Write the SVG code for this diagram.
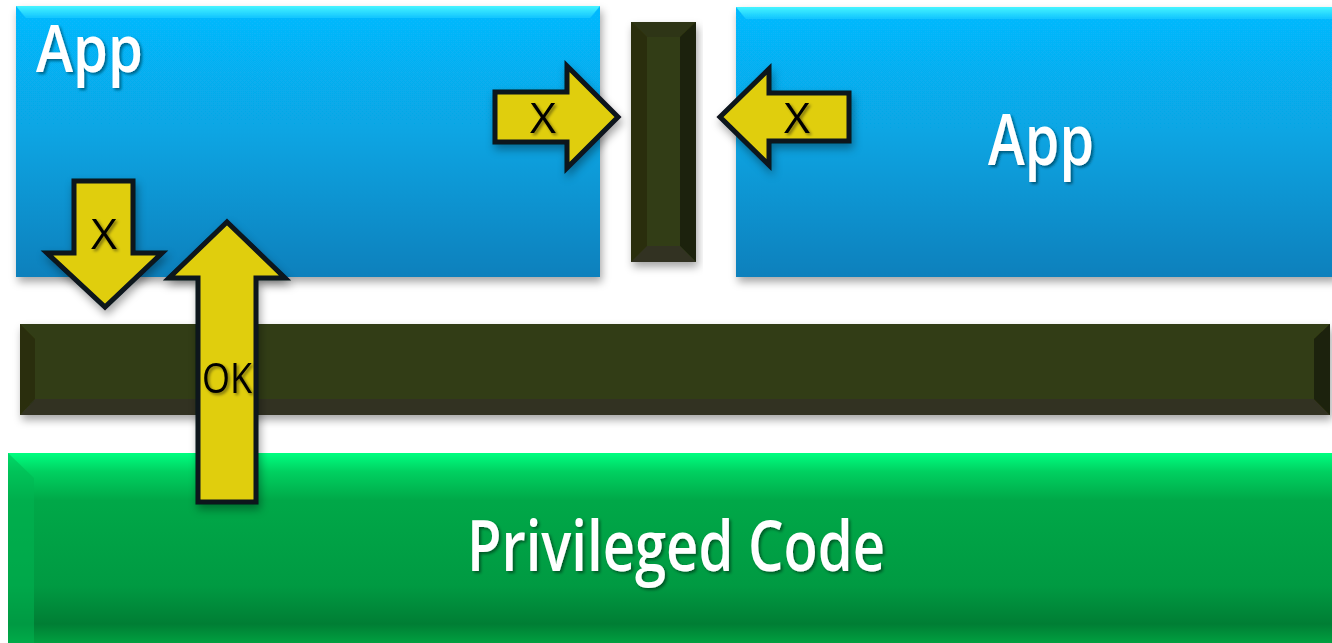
<svg xmlns="http://www.w3.org/2000/svg" width="1332" height="643" viewBox="0 0 1332 643">
<defs>
<linearGradient id="blue" x1="0" y1="0" x2="0" y2="1">
<stop offset="0" stop-color="#06baff"/>
<stop offset="0.45" stop-color="#07a6e4"/>
<stop offset="1" stop-color="#0a80bc"/>
</linearGradient>
<linearGradient id="blueTop" x1="0" y1="0" x2="0" y2="1">
<stop offset="0" stop-color="#46f4ff"/>
<stop offset="1" stop-color="#10c4ff"/>
</linearGradient>
<linearGradient id="green" x1="0" y1="0" x2="0" y2="1">
<stop offset="0" stop-color="#00ff80"/>
<stop offset="0.1" stop-color="#00d060"/>
<stop offset="0.25" stop-color="#00a848"/>
<stop offset="0.7" stop-color="#009a42"/>
<stop offset="0.9" stop-color="#007e34"/>
<stop offset="1" stop-color="#00a040"/>
</linearGradient>
<filter id="sh" x="-10%" y="-10%" width="120%" height="130%">
<feDropShadow dx="2" dy="5" stdDeviation="4" flood-color="#000" flood-opacity="0.35"/>
</filter>
<filter id="tsh" x="-10%" y="-10%" width="130%" height="130%">
<feDropShadow dx="2" dy="2" stdDeviation="1.5" flood-color="#000" flood-opacity="0.45"/>
</filter>
<style>
.big{font-family:"Open Sans","DejaVu Sans",sans-serif;font-size:70px;font-weight:600;fill:#fff;}
.lbl{font-family:"Open Sans","DejaVu Sans",sans-serif;font-size:42px;fill:#000;}
.arrow{fill:#e0ce0e;stroke:#08131c;stroke-width:5;stroke-linejoin:miter;}
.dark{fill:#333d14;}
.bevL{fill:#2a2e0e;}
.bevR{fill:#1d2108;}
.bevB{fill:#303320;}
.bevT{fill:#2e3412;}
</style>
</defs>

<g id="app-left" filter="url(#sh)">
<rect x="16" y="6" width="584" height="271" fill="url(#blue)"/>
<polygon points="16,6 600,6 590,18 26,18" fill="url(#blueTop)"/>
<text class="big" x="36" y="72" font-size="65" textLength="107" lengthAdjust="spacingAndGlyphs" filter="url(#tsh)" style="font-size:65px">App</text>
</g>

<g id="app-right" filter="url(#sh)">
<rect x="736" y="7" width="600" height="270" fill="url(#blue)"/>
<polygon points="736,7 1336,7 1336,19 746,19" fill="url(#blueTop)"/>
<text class="big" x="988" y="165" textLength="106" lengthAdjust="spacingAndGlyphs" filter="url(#tsh)">App</text>
</g>

<g id="vertical-barrier" filter="url(#sh)">
<rect class="dark" x="631" y="22" width="65" height="240"/>
<polygon class="bevT" points="631,22 696,22 680,37 647,37"/>
<polygon class="bevL" points="631,22 647,37 647,246 631,262"/>
<polygon class="bevR" points="696,22 680,37 680,246 696,262"/>
<polygon class="bevB" points="631,262 647,246 680,246 696,262"/>
</g>

<g id="horizontal-barrier" filter="url(#sh)">
<rect class="dark" x="20" y="324" width="1310" height="91"/>
<polygon class="bevL" points="20,324 35,339 35,399 20,415"/>
<polygon class="bevB" points="20,415 35,399 1314,399 1330,415"/>
<polygon class="bevR" points="1330,324 1314,339 1314,399 1330,415"/>
</g>

<g id="privileged-code">
<rect x="8" y="453" width="1324" height="190" fill="url(#green)"/>
<polygon points="8,453 34,478 34,643 8,643" fill="#00b552" opacity="0.5"/>
<text class="big" x="467" y="571" textLength="418" lengthAdjust="spacingAndGlyphs" filter="url(#tsh)">Privileged Code</text>
</g>

<g id="connectors" filter="url(#sh)">
<g id="arrow-down-x">
<polygon class="arrow" points="74,181 133,181 133,253 162,253 105,307 47,253 74,253"/>
<text class="lbl" x="104" y="249" text-anchor="middle" textLength="26" lengthAdjust="spacingAndGlyphs" filter="url(#tsh)">X</text>
</g>
<g id="arrow-up-ok">
<polygon class="arrow" points="227,222 285,278 256,278 256,502 198,502 198,278 169,278"/>
<text class="lbl" x="227" y="393" text-anchor="middle" textLength="50" lengthAdjust="spacingAndGlyphs" filter="url(#tsh)">OK</text>
</g>
<g id="arrow-right-x">
<polygon class="arrow" points="495,92 567,92 567,66 618,117 567,168 567,142 495,142"/>
<text class="lbl" x="543" y="133" text-anchor="middle" textLength="26" lengthAdjust="spacingAndGlyphs" filter="url(#tsh)">X</text>
</g>
<g id="arrow-left-x">
<polygon class="arrow" points="849,93 769,93 769,69 720,117 769,165 769,141 849,141"/>
<text class="lbl" x="797" y="133" text-anchor="middle" textLength="26" lengthAdjust="spacingAndGlyphs" filter="url(#tsh)">X</text>
</g>
</g>
</svg>
